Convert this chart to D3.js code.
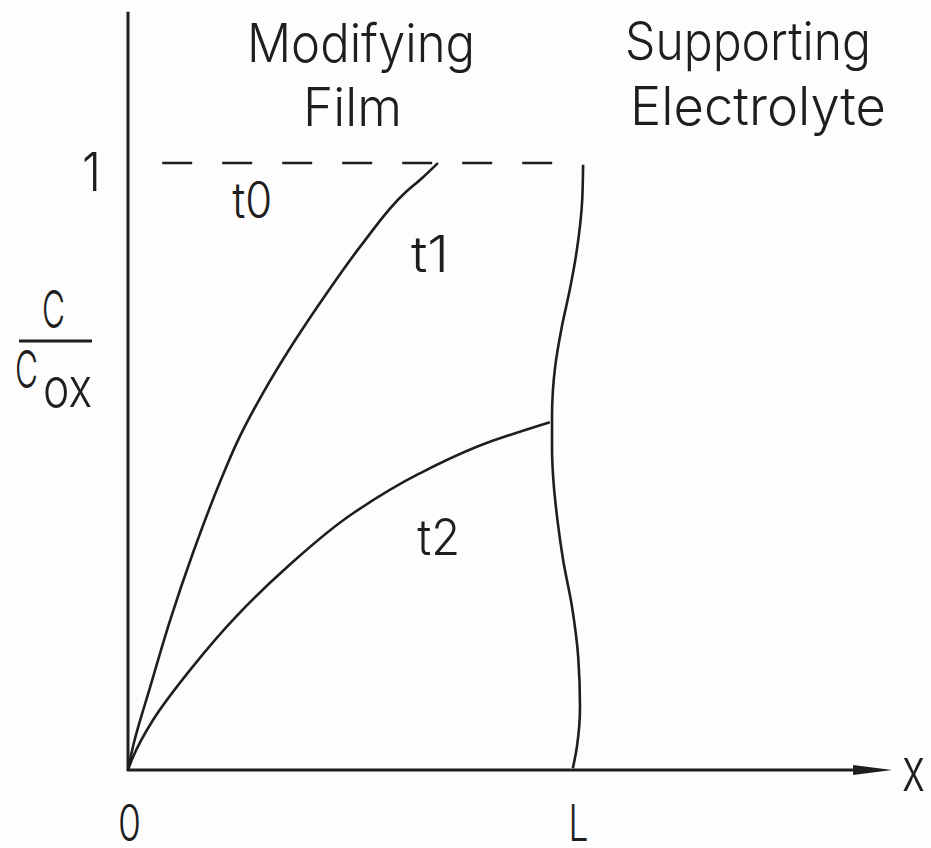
<!DOCTYPE html>
<html>
<head>
<meta charset="utf-8">
<script src="https://cdn.jsdelivr.net/npm/d3@7/dist/d3.min.js"></script>
<style>
  html, body { margin: 0; padding: 0; background: #fdfdfd; }
  svg { display: block; }
  text { font-family: "Inter", "DejaVu Sans", sans-serif; font-weight: 300; fill: #1e1e1e; }
</style>
</head>
<body>
<svg id="chart" width="931" height="848"></svg>
<script>
// Concentration profiles C/Cox across the modifying film (0 … L)

// axis ticks
const xTicks = [0, 1];
const xTickLabels = ["0", "L"];
const yTicks = [1];
const yTickLabels = ["1"];

// t0: initial uniform profile (C/Cox = 1 throughout the film)
const t0X = [0.077, 0.966];
const t0Y = [1, 1];

// t1 profile
const t1X = [0, 0.011, 0.050, 0.095, 0.146, 0.212, 0.245, 0.304, 0.372, 0.448, 0.529, 0.624, 0.662, 0.698];
const t1Y = [0, 0.038, 0.137, 0.247, 0.357, 0.483, 0.539, 0.621, 0.703, 0.786, 0.868, 0.951, 0.975, 1.0];

// t2 profile
const t2X = [0, 0.011, 0.056, 0.140, 0.245, 0.358, 0.507, 0.658, 0.809, 0.950];
const t2Y = [0, 0.021, 0.082, 0.165, 0.254, 0.334, 0.423, 0.489, 0.539, 0.573];

// film / electrolyte boundary
const edgeX = [1.025, 1.023, 1.011, 0.995, 0.977, 0.962, 0.955, 0.955, 0.957, 0.968, 0.980, 1.000, 1.014, 1.018, 1.011, 1.002];
const edgeY = [0.997, 0.939, 0.857, 0.791, 0.730, 0.664, 0.582, 0.527, 0.489, 0.407, 0.346, 0.269, 0.186, 0.104, 0.038, 0.003];

// labels
const curveNames = ["t0", "t1", "t2"];
const curveLabelX = [0.28, 0.68, 0.70];
const curveLabelY = [0.91, 0.82, 0.355];
const regionNames = [["Modifying", "Film"], ["Supporting", "Electrolyte"]];
const xAxisTitle = "x";

const ink = "#1e1e1e";
const svg = d3.select("#chart");

const x = d3.scaleLinear().domain([0, 1]).range([128, 572]);
const y = d3.scaleLinear().domain([0, 1]).range([770, 163]);
const xEnd = 1.633;  // arrow base along x
const yTop = 1.249;  // top of the ordinate

const zip = (a, b) => a.map((v, i) => [v, b[i]]);

// sized text: font size sets glyph height, textLength sets width
function label(g, px, py, str, size, width, anchor) {
  return g.append("text")
    .attr("x", px).attr("y", py)
    .attr("font-size", size)
    .attr("text-anchor", anchor || "start")
    .attr("textLength", width)
    .attr("lengthAdjust", "spacingAndGlyphs")
    .text(str);
}

// axes
svg.append("line")
  .attr("x1", x(0)).attr("x2", x(0))
  .attr("y1", y(0) + 1).attr("y2", y(yTop))
  .attr("stroke", ink).attr("stroke-width", 3);
svg.append("line")
  .attr("x1", x(0) - 1).attr("x2", x(xEnd))
  .attr("y1", y(0)).attr("y2", y(0))
  .attr("stroke", ink).attr("stroke-width", 3);
svg.append("path")
  .attr("d", `M${x(xEnd)},${y(0) - 5}L${x(xEnd) + 39},${y(0)}L${x(xEnd)},${y(0) + 5}Z`)
  .attr("fill", ink);

// tick labels through d3 axes
const gx = svg.append("g").attr("transform", `translate(0,${y(0)})`)
  .call(d3.axisBottom(x).tickValues(xTicks).tickSize(0).tickPadding(71)
    .tickFormat((d, i) => xTickLabels[i]));
gx.select(".domain").remove();
gx.selectAll("text")
  .attr("font-family", null).attr("font-size", 50).attr("fill", ink)
  .attr("dy", 0)
  .attr("dx", (d, i) => i === 1 ? 6 : 1)
  .attr("textLength", (d, i) => i === 1 ? 20 : 23)
  .attr("lengthAdjust", "spacingAndGlyphs");

const gy = svg.append("g").attr("transform", `translate(${x(0)},0)`)
  .call(d3.axisLeft(y).tickValues(yTicks).tickSize(0).tickPadding(27)
    .tickFormat((d, i) => yTickLabels[i]));
gy.select(".domain").remove();
gy.selectAll("text")
  .attr("font-family", null).attr("font-size", 54).attr("fill", ink)
  .attr("dy", 27)
  .attr("textLength", 19)
  .attr("lengthAdjust", "spacingAndGlyphs");

// axis titles
label(svg, 902, 791, xAxisTitle, 60, 23);
label(svg, 42, 328, "C", 52, 23);
svg.append("line").attr("x1", 19).attr("x2", 92).attr("y1", 341).attr("y2", 341)
  .attr("stroke", ink).attr("stroke-width", 3);
label(svg, 15, 388, "C", 52, 23);
label(svg, 43, 407, "ox", 54, 49);

// region titles
label(svg, 247, 62, regionNames[0][0], 53, 228);
label(svg, 303, 126, regionNames[0][1], 53, 99);
label(svg, 625, 60, regionNames[1][0], 53, 246);
label(svg, 630, 125, regionNames[1][1], 53, 256);

// profiles (x read as a function of height, so interpolate monotone in y)
const line = d3.line().x(d => x(d[0])).y(d => y(d[1]));
const monoY = d3.line().x(d => x(d[0])).y(d => y(d[1])).curve(d3.curveMonotoneY);

svg.append("path").datum(zip(t0X, t0Y)).attr("d", line)
  .attr("fill", "none").attr("stroke", ink).attr("stroke-width", 2.6)
  .attr("stroke-dasharray", "30,30");
// ordered top-down so pixel y increases along the path
svg.append("path").datum(zip(t1X, t1Y).reverse()).attr("d", monoY)
  .attr("fill", "none").attr("stroke", ink).attr("stroke-width", 2.6);
svg.append("path").datum(zip(t2X, t2Y).reverse()).attr("d", monoY)
  .attr("fill", "none").attr("stroke", ink).attr("stroke-width", 2.6);
svg.append("path").datum(zip(edgeX, edgeY)).attr("d", monoY)
  .attr("fill", "none").attr("stroke", ink).attr("stroke-width", 2.6);

// curve labels
const widths = [40, 38, 43];
curveNames.forEach((n, i) => {
  label(svg, x(curveLabelX[i]), y(curveLabelY[i]), n, 50, widths[i], "middle");
});
</script>
</body>
</html>
